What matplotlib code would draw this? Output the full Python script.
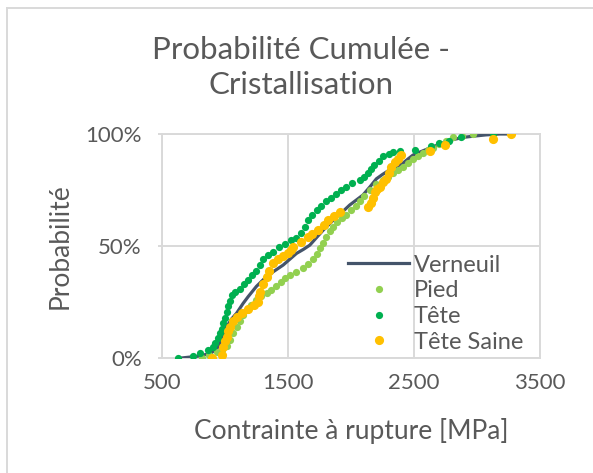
import matplotlib.pyplot as plt
from matplotlib.lines import Line2D
from matplotlib.ticker import FuncFormatter

# Verneuil (ligne)
verneuil_x = [650, 780, 880, 930, 960, 985, 1010, 1050, 1089, 1141, 1181, 1247, 1313, 1380,
              1459, 1520, 1565, 1620, 1671, 1720, 1776, 1830, 1882, 1935, 1988, 2040, 2094,
              2150, 2200, 2250, 2306, 2360, 2411, 2450, 2491, 2570, 2649, 2730, 2810, 2890,
              2967, 3070, 3180, 3230]
verneuil_y = [0, 0.8, 2, 4, 7, 11, 14, 17.5, 20, 24.4, 27.4, 32, 35.6, 38.5,
              41.5, 44.5, 46.7, 48.5, 50.4, 53.5, 57, 60, 63, 65.5, 68.3, 70.5, 72.8,
              76.5, 80, 82, 84, 85.5, 87, 88.8, 90.6, 92.5, 94.3, 96, 97.5, 98.5,
              99, 99.6, 100, 100]

# Pied
pied_x = [811, 870, 930, 970, 1009, 1040, 1060, 1089, 1115, 1140, 1168, 1205, 1247, 1285,
          1327, 1365, 1406, 1440, 1475, 1512, 1565, 1618, 1660, 1698, 1725, 1750, 1776,
          1802, 1830, 1856, 1890, 1930, 1962, 2000, 2035, 2067, 2105, 2147, 2200, 2253,
          2290, 2332, 2370, 2411, 2450, 2491, 2530, 2570, 2610, 2649, 2700, 2750, 2808,
          2880, 2967]
pied_y = [0, 1.5, 2.5, 3.5, 5.2, 8, 11, 14, 16.5, 19, 21.5, 23.5, 26, 27.5,
          29, 30.5, 32, 34, 35.5, 37, 38.5, 40, 42, 44, 46.5, 49, 51.5,
          54, 56.5, 58.7, 60.5, 62.5, 64, 66, 68, 70, 72.5, 75, 77.5, 79.5,
          81, 82.5, 84, 85.4, 87.2, 89, 90.2, 91.4, 92.8, 93.6, 95.5, 97, 98.8,
          99.3, 100]

# Tête
tete_x = [626, 745, 798, 864, 900, 917, 945, 956, 970, 983, 996, 1009, 1022, 1036, 1049,
          1080, 1115, 1150, 1181, 1215, 1247, 1275, 1300, 1340, 1380, 1425, 1472, 1520,
          1565, 1600, 1631, 1657, 1690, 1724, 1760, 1802, 1840, 1882, 1920, 1962, 2010,
          2067, 2100, 2134, 2160, 2180, 2220, 2253, 2300, 2332, 2385, 2504, 2636, 2700,
          2780, 2874, 3125]
tete_y = [0, 1, 2.2, 3.7, 5, 6.7, 9, 11, 13, 15.6, 18, 20.5, 23, 25.5, 28,
          29.5, 31, 33, 35, 37, 39, 41.5, 44, 46, 47.5, 49.5, 51, 52.5,
          53.5, 56, 58.7, 61.7, 64, 66, 68, 70, 71.5, 73, 75, 76.5, 78,
          79.5, 81, 82.5, 84.5, 86, 88, 90, 91, 92, 92.2, 92.8, 94.6, 95.8,
          97, 98.5, 100]

# Tête Saine
saine_x = [890, 970, 983, 996, 1009, 1022, 1036, 1060, 1089, 1130, 1181, 1225, 1260, 1268,
           1274, 1300, 1327, 1350, 1380, 1420, 1460, 1499, 1520, 1538, 1600, 1657, 1690,
           1737, 1780, 1816, 1860, 1909, 2134, 2160, 2173, 2187, 2205, 2226, 2255, 2279,
           2300, 2319, 2345, 2370, 2398, 2623, 2742, 3125, 3271]
saine_y = [0, 1.3, 5, 7.5, 9.5, 12, 14, 16.5, 18.4, 20, 22, 23.5, 25, 27.5,
           29.6, 33, 36.3, 39, 42.3, 44, 45.5, 46.7, 48, 49.7, 52, 54, 55.5,
           57, 59.5, 61.6, 63.5, 65.3, 67.5, 69, 71.3, 74.2, 75.5, 76.5, 78.5, 80,
           82.5, 85.4, 87.6, 89, 90.6, 92.5, 95, 97.6, 100]

x_ticks = [500, 1500, 2500, 3500]
y_ticks = [0, 50, 100]

gray_text = '#595959'
grid_col = '#D9D9D9'
plt.rcParams['font.family'] = ['Lato', 'DejaVu Sans']

fig = plt.figure(figsize=(5.93, 4.73), dpi=100)
ax = fig.add_axes([0.274, 0.2431, 0.6366, 0.4736])

ax.plot(verneuil_x, verneuil_y, '-', color='#44546A', lw=2.3, label='Verneuil', zorder=3)
ax.plot(pied_x, pied_y, 'o', color='#92D050', ms=5.2, mew=0, label='Pied', zorder=4)
ax.plot(tete_x, tete_y, 'o', color='#00B050', ms=5.2, mew=0, label='Tête', zorder=5)
ax.plot(saine_x, saine_y, 'o', color='#FFC000', ms=6.6, mew=0, label='Tête Saine', zorder=6)

ax.set_xlim(500, 3500)
ax.set_ylim(0, 100)
ax.set_xticks(x_ticks)
ax.set_yticks(y_ticks)
ax.yaxis.set_major_formatter(FuncFormatter(lambda v, p: f'{v:.0f}%'))
ax.grid(True, color=grid_col, lw=1.4)
ax.set_axisbelow(True)
for s in ax.spines.values():
    s.set_color(grid_col)
    s.set_linewidth(1.4)
ax.tick_params(axis='y', length=3, color=grid_col, width=1.4, pad=12,
               labelsize=16, labelcolor=gray_text)
ax.tick_params(axis='x', length=0, pad=11, labelsize=16, labelcolor=gray_text)

ax.set_xlabel('Contrainte à rupture [MPa]', fontsize=19, color=gray_text, labelpad=18)
ax.set_ylabel('Probabilité', fontsize=19, color=gray_text, labelpad=9)

fig.text(0.508, 0.857, 'Probabilité Cumulée -\nCristallisation', ha='center', va='center',
         fontsize=22.5, color=gray_text, linespacing=1.32)

leg = ax.legend(loc='lower right', bbox_to_anchor=(1.0, -0.05), frameon=False,
                fontsize=17, labelcolor=gray_text, handlelength=2.6, handletextpad=0.2,
                labelspacing=0.2, borderpad=0.2)

# cadre du graphique
fig.add_artist(Line2D([7 / 593, 7 / 593], [0, 1 - 8 / 473], color=grid_col, lw=1.4))
fig.add_artist(Line2D([7 / 593, 1], [1 - 8 / 473, 1 - 8 / 473], color=grid_col, lw=1.4))

fig.savefig('out.png', dpi=100)
